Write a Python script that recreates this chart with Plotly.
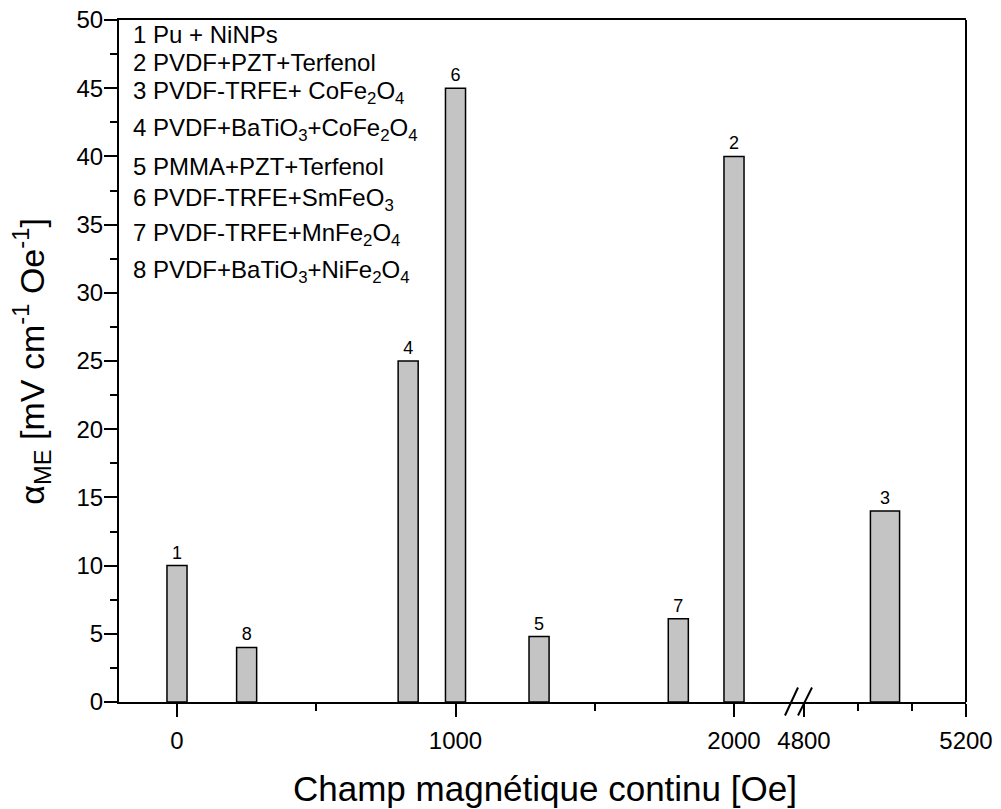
import plotly.graph_objects as go

# ---- data ----
fields_left = [0, 250, 830, 1000, 1300, 1800, 2000]          # Oe, left axis segment
alpha_left = [10, 4, 25, 45, 4.8, 6.1, 40]                   # mV cm^-1 Oe^-1
ids_left = ["1", "8", "4", "6", "5", "7", "2"]

fields_right = [5000]                                        # Oe, right axis segment
alpha_right = [14]
ids_right = ["3"]

legend_lines = [
    "1 Pu + NiNPs",
    "2 PVDF+PZT+Terfenol",
    "3 PVDF-TRFE+ CoFe<sub>2</sub>O<sub>4</sub>",
    "4 PVDF+BaTiO<sub>3</sub>+CoFe<sub>2</sub>O<sub>4</sub>",
    "5 PMMA+PZT+Terfenol",
    "6 PVDF-TRFE+SmFeO<sub>3</sub>",
    "7 PVDF-TRFE+MnFe<sub>2</sub>O<sub>4</sub>",
    "8 PVDF+BaTiO<sub>3</sub>+NiFe<sub>2</sub>O<sub>4</sub>",
]
left_ticks = [0, 1000, 2000]
left_minor = [500, 1500]
right_ticks = [4800, 5200]
right_minor = [4933.33, 5066.67]
y_ticks = list(range(0, 51, 5))
bar_width = 72

# ---- layout geometry (screen pixels of the 1001x809 window) ----
OFF = 8                       # default page body margin
W, H = 1001 - OFF, 809 - OFF  # figure size so it fills the window exactly
L, R, T, B = 119, 966, 20, 702.5
BRK = 798
FONT = "Liberation Sans, Arial, sans-serif"


def px(x):
    return (x - L) / (R - L)


def py(y):
    return (B - y) / (B - T)


split = px(BRK)
sL = 0.2785  # px per Oe on left segment (0 at x=177)
sR = 0.405   # px per Oe on right segment (4800 at x=804)
left_range = [(L - 177) / sL, (BRK - 177) / sL]
right_range = [4800 - (804 - BRK) / sR, 5200]

bar_style = dict(color="#c4c4c4", line=dict(color="black", width=1.5))
label_font = dict(family=FONT, size=18, color="black")

fig = go.Figure()
fig.add_trace(go.Bar(
    x=fields_left, y=alpha_left, width=bar_width, text=ids_left,
    textposition="outside", constraintext="none", cliponaxis=False,
    textfont=label_font, outsidetextfont=label_font,
    marker=bar_style, xaxis="x", yaxis="y", hoverinfo="skip", showlegend=False))
fig.add_trace(go.Bar(
    x=fields_right, y=alpha_right, width=bar_width, text=ids_right,
    textposition="outside", constraintext="none", cliponaxis=False,
    textfont=label_font, outsidetextfont=label_font,
    marker=bar_style, xaxis="x2", yaxis="y", hoverinfo="skip", showlegend=False))

tick_font = dict(family=FONT, size=24, color="black")
axis_common = dict(
    showline=True, linewidth=2, linecolor="black", mirror=True,
    ticks="outside", ticklen=13, tickwidth=2, tickcolor="black",
    showgrid=False, zeroline=False, tickfont=tick_font, ticklabelstandoff=3,
    automargin=False, ticklabeloverflow="allow",
)

fig.update_layout(
    width=W, height=H, autosize=False,
    margin=dict(l=L - OFF, r=W - (R - OFF), t=T - OFF, b=H - (B - OFF), pad=0,
                autoexpand=False),
    paper_bgcolor="white", plot_bgcolor="white",
    font=dict(family=FONT, color="black"),
    xaxis=dict(domain=[0, split], range=left_range, tickmode="array",
               tickvals=left_ticks, ticktext=[str(v) for v in left_ticks],
               minor=dict(tickvals=left_minor, ticklen=7, tickwidth=2,
                          tickcolor="black", ticks="outside"),
               anchor="y", **axis_common),
    xaxis2=dict(domain=[split, 1], range=right_range, tickmode="array",
                tickvals=right_ticks, ticktext=[str(v) for v in right_ticks],
                minor=dict(tickvals=right_minor, ticklen=7, tickwidth=2,
                           tickcolor="black", ticks="outside"),
                anchor="y", **axis_common),
    yaxis=dict(range=[0, 50], tickmode="array", tickvals=y_ticks,
               minor=dict(dtick=2.5, tick0=0, ticklen=7, tickwidth=2,
                          tickcolor="black", ticks="outside"),
               anchor="x", showline=True, linewidth=2, linecolor="black",
               ticks="outside", ticklen=13, tickwidth=2, tickcolor="black",
               showgrid=False, zeroline=False, tickfont=tick_font,
               ticklabelstandoff=-4, automargin=False, ticklabeloverflow="allow"),
)

shapes = []
# right border
shapes.append(dict(type="line", xref="paper", yref="paper", x0=1, x1=1, y0=0, y1=1,
                   line=dict(color="black", width=2)))
# axis break marks
for x_bot, x_top in [(785, 798), (798, 812)]:
    shapes.append(dict(type="line", xref="paper", yref="paper",
                       x0=px(x_bot), y0=py(716), x1=px(x_top), y1=py(688),
                       line=dict(color="black", width=2)))
fig.update_layout(shapes=shapes)

annotations = []
cap_tops = [27, 55, 83, 120, 159, 190, 225, 262]
for txt, ct in zip(legend_lines, cap_tops):
    annotations.append(dict(text=txt, xref="paper", yref="paper",
                            x=px(131), y=py(ct - 8), xanchor="left", yanchor="top",
                            showarrow=False,
                            font=dict(family=FONT, size=24, color="black")))
# axis titles
annotations.append(dict(text="Champ magnétique continu [Oe]", xref="paper", yref="paper",
                        x=px(545), y=py(767.5), xanchor="center", yanchor="top",
                        showarrow=False, font=dict(family=FONT, size=35, color="black")))
annotations.append(dict(text="α<sub>ME</sub> [mV cm<sup>-1</sup> Oe<sup>-1</sup>]",
                        xref="paper", yref="paper", x=px(31), y=py(362),
                        xanchor="center", yanchor="middle", textangle=-90,
                        showarrow=False, font=dict(family=FONT, size=34, color="black")))
fig.update_layout(annotations=annotations)

fig.write_html("out.html")
